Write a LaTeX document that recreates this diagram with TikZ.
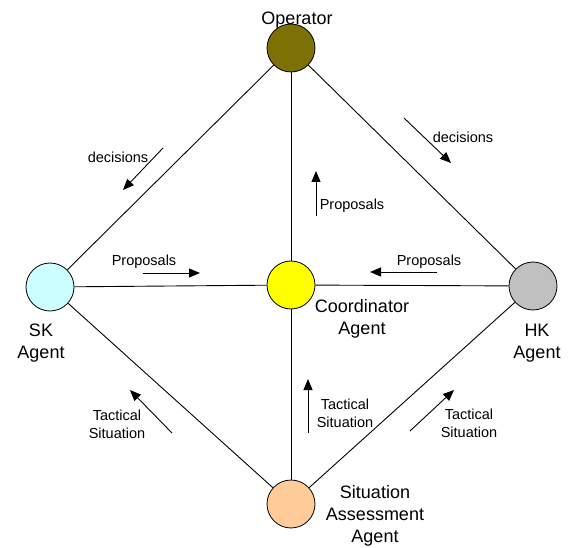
\documentclass[tikz,border=0pt]{standalone}
\usepackage{fontspec}
\setmainfont{Liberation Sans}
\usetikzlibrary{arrows.meta}
\definecolor{opcol}{RGB}{125,112,5}
\definecolor{skcol}{RGB}{204,255,255}
\definecolor{cocol}{RGB}{255,255,0}
\definecolor{hkcol}{RGB}{192,192,192}
\definecolor{sacol}{RGB}{255,204,153}
\tikzset{
  agent/.style={circle, draw=black, line width=0.8pt, minimum size=48pt, inner sep=0pt},
  biglabel/.style={align=center, inner sep=0pt, font=\fontsize{18}{22}\selectfont},
  smalllabel/.style={align=center, inner sep=0pt, font=\fontsize{14.5}{18}\selectfont},
  link/.style={draw=black, line width=0.9pt},
  flow/.style={draw=black, line width=0.9pt, -{Triangle[length=11pt,width=9pt]}}
}
\begin{document}
\begin{tikzpicture}[x=1pt,y=-1pt]
\useasboundingbox (0,0) rectangle (568,548);
% agents
\node[agent, fill=opcol] (op) at (291,48) {};
\node[agent, fill=skcol] (sk) at (50,287) {};
\node[agent, fill=cocol] (co) at (291,285) {};
\node[agent, fill=hkcol] (hk) at (533,286) {};
\node[agent, fill=sacol] (sa) at (291,504) {};
% links
\draw[link] (op) -- (sk);
\draw[link] (op) -- (hk);
\draw[link] (op) -- (co);
\draw[link] (sk) -- (co);
\draw[link] (co) -- (hk);
\draw[link] (sk) -- (sa);
\draw[link] (hk) -- (sa);
\draw[link] (co) -- (sa);
% labels
\node[biglabel] (opl) at (297,20) {Operator};
\node[biglabel] (skl) at (41,343) {SK\\Agent};
\node[biglabel] (hkl) at (537,343) {HK\\Agent};
\node[biglabel] (col) at (362,319) {Coordinator\\Agent};
\node[biglabel] (sal) at (375,516) {Situation\\Assessment\\Agent};
% flow arrows
\coordinate (d1s) at (163,148); \coordinate (d1e) at (123,190);
\coordinate (d2s) at (404,118); \coordinate (d2e) at (451,163);
\coordinate (p1s) at (143,273); \coordinate (p1e) at (200,273);
\coordinate (p2s) at (437,272); \coordinate (p2e) at (370,272);
\coordinate (p3s) at (316,216); \coordinate (p3e) at (316,171);
\coordinate (t1s) at (172,433); \coordinate (t1e) at (130,390);
\coordinate (t2s) at (308,433); \coordinate (t2e) at (308,379);
\coordinate (t3s) at (410,431); \coordinate (t3e) at (454,390);
\draw[flow] (d1s) -- (d1e);
\draw[flow] (d2s) -- (d2e);
\draw[flow] (p1s) -- (p1e);
\draw[flow] (p2s) -- (p2e);
\draw[flow] (p3s) -- (p3e);
\draw[flow] (t1s) -- (t1e);
\draw[flow] (t2s) -- (t2e);
\draw[flow] (t3s) -- (t3e);
% flow labels
\node[smalllabel] (dl1) at (118,157) {decisions};
\node[smalllabel] (dl2) at (463,137) {decisions};
\node[smalllabel] (pl1) at (144,262) {Proposals};
\node[smalllabel] (pl2) at (429,262) {Proposals};
\node[smalllabel] (pl3) at (352,206) {Proposals};
\node[smalllabel] (tl1) at (117,424) {Tactical\\Situation};
\node[smalllabel] (tl2) at (345,413) {Tactical\\Situation};
\node[smalllabel] (tl3) at (469,423) {Tactical\\Situation};
\end{tikzpicture}
\end{document}
